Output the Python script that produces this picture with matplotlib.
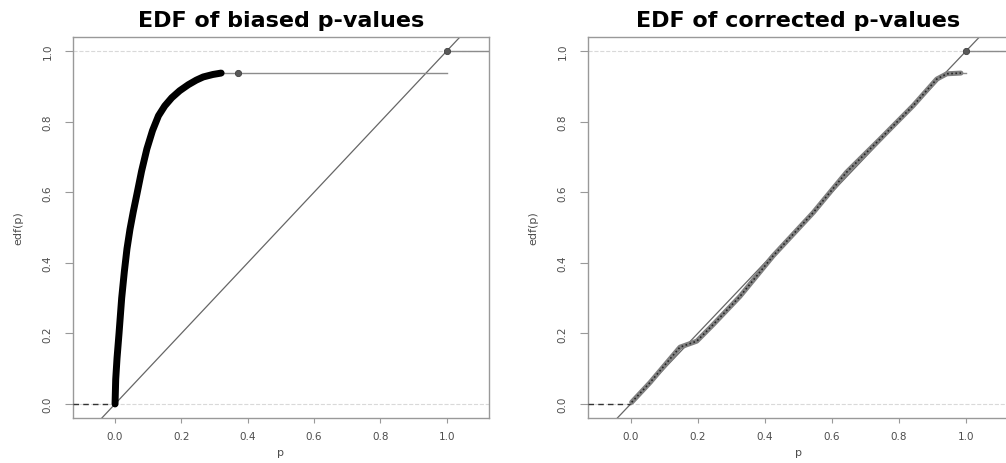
import numpy as np
import matplotlib
matplotlib.use("Agg")
import matplotlib.pyplot as plt

# SECTION Data

titles = ["EDF of biased p-values", "EDF of corrected p-values"]
x_label = "p"
y_label = "edf(p)"
ticks = [0.0, 0.2, 0.4, 0.6, 0.8, 1.0]
tick_labels = ["0.0", "0.2", "0.4", "0.6", "0.8", "1.0"]

# main body of the biased edf (dense cloud of points near zero)
biased_p = [0.0, 0.002, 0.006, 0.012, 0.02, 0.028, 0.036, 0.045, 0.055,
            0.066, 0.08, 0.096, 0.113, 0.131, 0.15, 0.171, 0.195, 0.221,
            0.245, 0.266, 0.295, 0.32]
biased_edf = [0.0, 0.07, 0.13, 0.2, 0.3, 0.375, 0.44, 0.495, 0.545,
              0.595, 0.66, 0.723, 0.775, 0.817, 0.845, 0.868, 0.888, 0.905,
              0.918, 0.927, 0.934, 0.938]
# isolated jumps after the body
biased_tail_p = [0.372, 1.0]
biased_tail_edf = [0.938, 1.0]

# corrected edf, close to the diagonal
corrected_p = [0.003, 0.058, 0.147, 0.197, 0.246, 0.326, 0.425, 0.545,
               0.644, 0.744, 0.843, 0.913, 0.943, 0.985]
corrected_edf = [0.005, 0.061, 0.161, 0.178, 0.225, 0.305, 0.42, 0.543,
                 0.657, 0.751, 0.846, 0.921, 0.936, 0.938]
corrected_tail_p = [1.0]
corrected_tail_edf = [1.0]

XLIM = (-0.1264, 1.1264)
YLIM = (-0.04, 1.04)

# SECTION Helper Funcs


def style_axes(ax, title):
    ax.set_xlim(*XLIM)
    ax.set_ylim(*YLIM)
    for sp in ax.spines.values():
        sp.set_color("0.6")
        sp.set_linewidth(1.0)
    ax.set_xticks(ticks)
    ax.set_xticklabels(tick_labels)
    ax.set_yticks(ticks)
    ax.set_yticklabels(tick_labels)
    ax.tick_params(axis="x", length=3.6, width=0.8, color="0.6", pad=6,
                   labelsize=7.5, labelcolor="0.3")
    ax.tick_params(axis="y", length=5.8, width=0.8, color="0.6", pad=9,
                   labelsize=7.5, labelcolor="0.3", labelrotation=90)
    for lab in ax.get_yticklabels():
        lab.set_va("center")
    ax.set_title(title, fontsize=16, fontweight="bold", pad=8)
    ax.set_xlabel(x_label, fontsize=8, color="0.3", labelpad=4)
    ax.set_ylabel(y_label, fontsize=8, color="0.3", labelpad=14)
    # faint reference lines at 0 and 1, plus diagonal
    for h in (0.0, 1.0):
        ax.axhline(h, color="0.85", lw=0.8, ls="--", zorder=1)
    ax.plot(XLIM, XLIM, color="0.4", lw=0.9, zorder=2)
    # dashed first step left of zero
    ax.plot([XLIM[0], 0.0], [0.0, 0.0], color="0.2", lw=1.0, ls=(0, (4, 3)),
            zorder=3)


def draw_tail(ax, start_p, start_edf, tail_p, tail_edf):
    xs = [start_p] + tail_p + [XLIM[1]]
    ys = [start_edf] + tail_edf
    for i in range(len(ys)):
        ax.plot([xs[i], xs[i + 1]], [ys[i], ys[i]], color="0.55", lw=1.0,
                zorder=3)
    ax.plot(tail_p, tail_edf, "o", ms=4.5, mfc="0.35", mec="0.25", mew=0.6,
            zorder=4)


# SECTION MAIN

fig = plt.figure(figsize=(10.06, 4.64), dpi=100)
ax1 = fig.add_axes([0.0727, 0.0968, 0.4129, 0.8211])
ax2 = fig.add_axes([0.5848, 0.0968, 0.4175, 0.8211])

style_axes(ax1, titles[0])
ax1.plot(biased_p, biased_edf, color="black", lw=5.0, solid_capstyle="round",
         solid_joinstyle="round", zorder=5)
draw_tail(ax1, biased_p[-1], biased_edf[-1], biased_tail_p, biased_tail_edf)

style_axes(ax2, titles[1])
ax2.plot(corrected_p, corrected_edf, color="0.5", lw=3.6,
         solid_capstyle="round", solid_joinstyle="round", zorder=5)
ax2.plot(corrected_p, corrected_edf, color="0.15", lw=1.2, ls=(0, (1, 1.5)),
         zorder=6)
draw_tail(ax2, corrected_p[-1], corrected_edf[-1], corrected_tail_p,
          corrected_tail_edf)

fig.savefig("out.png", dpi=100)
